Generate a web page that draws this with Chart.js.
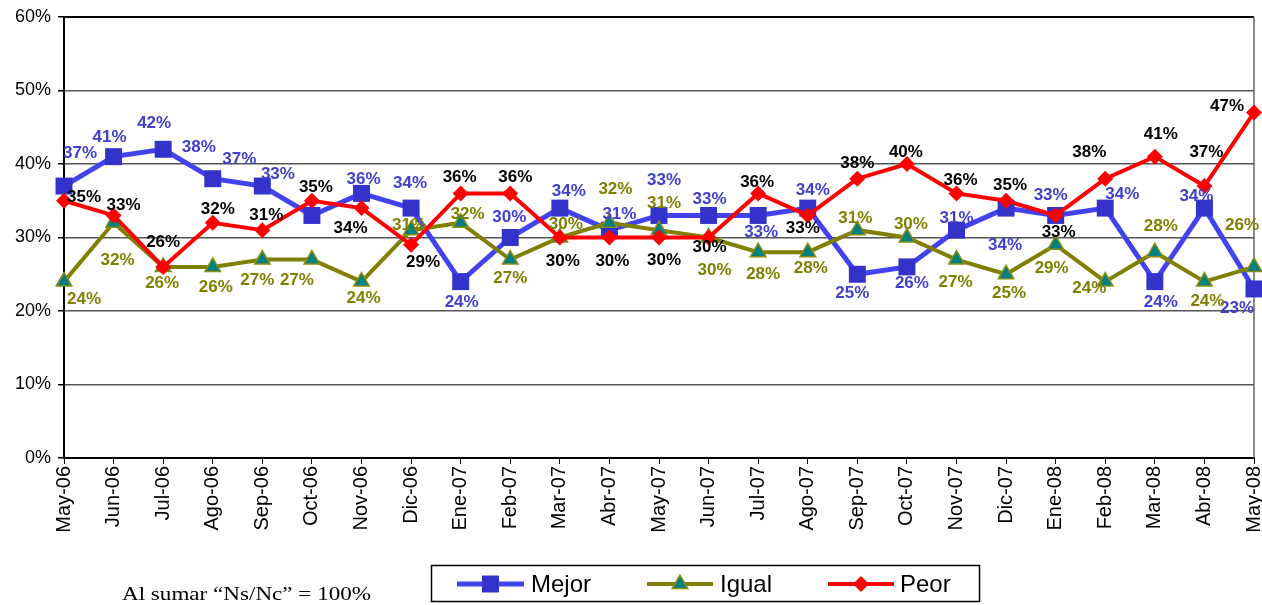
<!DOCTYPE html>
<html>
<head>
<meta charset="utf-8">
<script src="https://cdn.jsdelivr.net/npm/chart.js@4.4.1/dist/chart.umd.min.js"></script>
<style>
  html, body { margin: 0; padding: 0; background: #fff; }
  #wrap { position: relative; width: 1262px; height: 605px; }
</style>
</head>
<body>
<div id="wrap"><canvas id="chart" width="1262" height="605"></canvas></div>
<script>
// --- Data ---
const months = ['May-06', 'Jun-06', 'Jul-06', 'Ago-06', 'Sep-06', 'Oct-06', 'Nov-06', 'Dic-06',
  'Ene-07', 'Feb-07', 'Mar-07', 'Abr-07', 'May-07', 'Jun-07', 'Jul-07', 'Ago-07', 'Sep-07',
  'Oct-07', 'Nov-07', 'Dic-07', 'Ene-08', 'Feb-08', 'Mar-08', 'Abr-08', 'May-08'];
const mejor = [37, 41, 42, 38, 37, 33, 36, 34, 24, 30, 34, 31, 33, 33, 33, 34, 25, 26, 31, 34, 33, 34, 24, 34, 23];
const igual = [24, 32, 26, 26, 27, 27, 24, 31, 32, 27, 30, 32, 31, 30, 28, 28, 31, 30, 27, 25, 29, 24, 28, 24, 26];
const peor  = [35, 33, 26, 32, 31, 35, 34, 29, 36, 36, 30, 30, 30, 30, 36, 33, 38, 40, 36, 35, 33, 38, 41, 37, 47];
const seriesNames = ['Mejor', 'Igual', 'Peor'];
const yMin = 0, yMax = 60, yStep = 10;
const footnote = 'Al sumar \u201CNs/Nc\u201D = 100%';

// --- Label placement: [dx, dy] in px from each point ---
const mejorLabelOffsets = [[16,-33],[-4,-19],[-9,-26],[-14,-31],[-23,-27],[-34,-41],[2,-14],[-1,-25],
  [1,21],[-1,-20],[9,-17],[10,-16],[5,-35],[1,-16],[3,17],[5,-18],[-5,19],[5,16],[0,-12],[-1,37],
  [-5,-20],[17,-14],[6,21],[-8,-12],[-17,19]];
const igualLabelOffsets = [[20,18],[4,38],[-1,16],[3,20],[-5,21],[-15,21],[2,17],[-2,-5],[7,-8],
  [0,19],[6,-13],[6,-33],[5,-27],[6,33],[5,22],[3,16],[-2,-12],[4,-13],[-1,23],[3,19],[-4,23],
  [-16,7],[6,-26],[3,20],[-12,-42]];
const peorLabelOffsets = [[20,-3],[10,-10],[0,-25],[5,-13],[4,-15],[4,-13],[-11,20],[12,17],[-1,-16],
  [5,-16],[3,24],[3,24],[5,23],[1,10],[-1,-11],[-5,13],[0,-15],[-1,-12],[4,-13],[4,-15],[3,17],
  [-16,-26],[6,-22],[2,-34],[-27,-6]];

const FONT = '"Liberation Sans", Arial, sans-serif';

// --- Plugins ---
// frame: black top, gray right
const framePlugin = {
  id: 'frame',
  beforeDatasetsDraw(chart) {
    const { ctx, chartArea: a } = chart;
    ctx.save();
    ctx.strokeStyle = '#000';
    ctx.lineWidth = 2;
    ctx.beginPath();
    ctx.moveTo(a.left, a.top);
    ctx.lineTo(a.right, a.top);
    ctx.stroke();
    ctx.strokeStyle = '#666';
    ctx.lineWidth = 1.5;
    ctx.beginPath();
    ctx.moveTo(a.right, a.top);
    ctx.lineTo(a.right, a.bottom);
    ctx.stroke();
    ctx.restore();
  }
};

const pointLabels = {
  id: 'pointLabels',
  afterDatasetsDraw(chart) {
    const ctx = chart.ctx;
    ctx.save();
    ctx.font = 'bold 17px ' + FONT;
    ctx.textAlign = 'center';
    ctx.textBaseline = 'middle';
    chart.data.datasets.forEach((ds, i) => {
      const meta = chart.getDatasetMeta(i);
      ctx.fillStyle = ds.labelColor;
      meta.data.forEach((pt, j) => {
        const off = ds.labelOffsets[j];
        ctx.fillText(ds.data[j] + '%', pt.x + off[0], pt.y + off[1]);
      });
    });
    ctx.restore();
  }
};

// legend box with line + marker, plus footnote
const legendBox = {
  id: 'legendBox',
  afterDraw(chart) {
    const ctx = chart.ctx;
    ctx.save();
    ctx.strokeStyle = '#000';
    ctx.lineWidth = 1.5;
    ctx.strokeRect(431.5, 565.5, 548, 36);

    const items = [
      { x0: 457, x1: 524, tx: 531 },
      { x0: 647, x1: 713, tx: 720 },
      { x0: 828, x1: 894, tx: 900 }
    ];
    const cy = 584;
    chart.data.datasets.forEach((ds, i) => {
      const it = items[i];
      ctx.strokeStyle = ds.borderColor;
      ctx.lineWidth = ds.borderWidth;
      ctx.beginPath();
      ctx.moveTo(it.x0, cy);
      ctx.lineTo(it.x1, cy);
      ctx.stroke();
      ctx.fillStyle = ds.pointBackgroundColor;
      ctx.strokeStyle = ds.pointBorderColor;
      ctx.lineWidth = ds.pointBorderWidth;
      Chart.helpers.drawPoint(ctx, {
        pointStyle: ds.pointStyle, radius: ds.pointRadius, rotation: 0, borderWidth: ds.pointBorderWidth
      }, (it.x0 + it.x1) / 2, cy);
      ctx.fillStyle = '#000';
      ctx.font = '24px ' + FONT;
      ctx.textAlign = 'left';
      ctx.textBaseline = 'middle';
      ctx.fillText(ds.label, it.tx, cy + 1);
    });

    // footnote, stretched to the reference width
    ctx.font = '18px "Liberation Serif", "DejaVu Serif", serif';
    const w = ctx.measureText(footnote).width;
    ctx.translate(122, 595);
    ctx.scale(249 / w, 1);
    ctx.fillStyle = '#000';
    ctx.textAlign = 'left';
    ctx.textBaseline = 'middle';
    ctx.fillText(footnote, 0, 0);
    ctx.restore();
  }
};

// --- Chart ---
const ctx = document.getElementById('chart').getContext('2d');
new Chart(ctx, {
  type: 'line',
  data: {
    labels: months,
    datasets: [
      {
        label: seriesNames[0], data: mejor, order: 3,
        borderColor: 'rgb(66,66,238)', borderWidth: 5,
        pointStyle: 'rect', pointRadius: 12, pointBackgroundColor: '#3333cc',
        pointBorderColor: '#3333cc', pointBorderWidth: 0,
        labelColor: '#4040cc', labelOffsets: mejorLabelOffsets,
        tension: 0, clip: false
      },
      {
        label: seriesNames[1], data: igual, order: 2,
        borderColor: '#808000', borderWidth: 4,
        pointStyle: 'triangle', pointRadius: 9, pointBackgroundColor: '#008080',
        pointBorderColor: '#8c8c10', pointBorderWidth: 1.5,
        labelColor: '#808000', labelOffsets: igualLabelOffsets,
        tension: 0, clip: false
      },
      {
        label: seriesNames[2], data: peor, order: 1,
        borderColor: '#ff0000', borderWidth: 4,
        pointStyle: 'rectRot', pointRadius: 8, pointBackgroundColor: '#ff0000',
        pointBorderColor: '#ff0000', pointBorderWidth: 0,
        labelColor: '#000000', labelOffsets: peorLabelOffsets,
        tension: 0, clip: false
      }
    ]
  },
  options: {
    responsive: false,
    devicePixelRatio: 1,
    animation: false,
    events: [],
    layout: { autoPadding: false, padding: { top: 17, right: 8, left: 0, bottom: 0 } },
    plugins: { legend: { display: false }, tooltip: { enabled: false } },
    scales: {
      x: {
        offset: false,
        afterFit: (s) => { s.height = 147; s.paddingLeft = 0; s.paddingRight = 0; },
        grid: { drawOnChartArea: false, drawTicks: true, tickLength: 6, color: '#000', lineWidth: 1 },
        border: { display: true, color: '#000', width: 2 },
        ticks: {
          autoSkip: false, minRotation: 90, maxRotation: 90, padding: 2,
          color: '#000', font: { family: FONT, size: 20 }
        }
      },
      y: {
        min: yMin, max: yMax,
        afterFit: (s) => { s.width = 64; s.paddingTop = 0; s.paddingBottom = 0; },
        grid: {
          color: (c) => (c.tick && c.tick.value === yMax ? '#000' : '#555'),
          lineWidth: 1.5, tickLength: 6, tickColor: '#000'
        },
        border: { display: true, color: '#000', width: 2 },
        ticks: {
          stepSize: yStep, padding: 7, color: '#000',
          font: { family: FONT, size: 18 },
          callback: (v) => v + '%'
        }
      }
    }
  },
  plugins: [framePlugin, pointLabels, legendBox]
});
</script>
</body>
</html>
